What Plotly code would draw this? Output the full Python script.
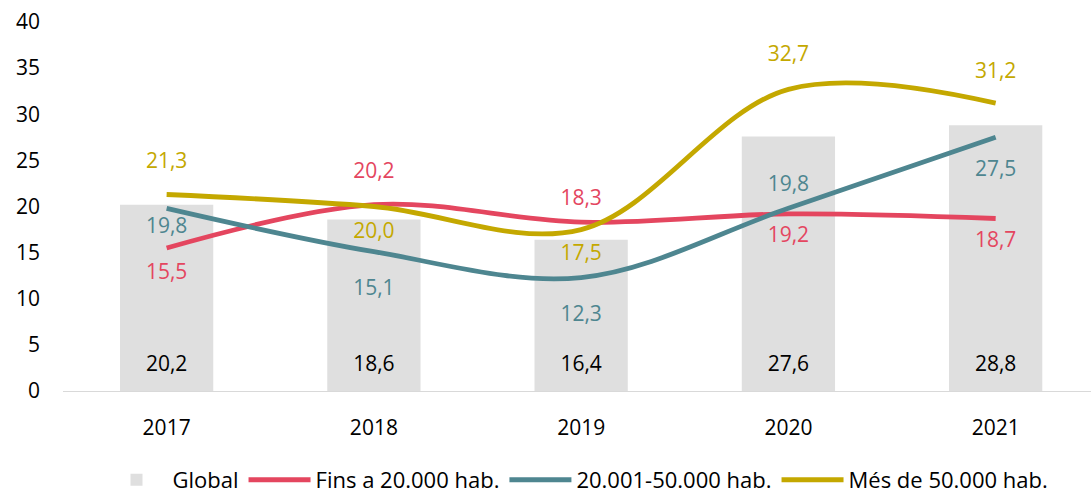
import plotly.graph_objects as go

years = ["2017", "2018", "2019", "2020", "2021"]
global_vals = [20.2, 18.6, 16.4, 27.6, 28.8]
fins20 = [15.5, 20.2, 18.3, 19.2, 18.7]
mid = [19.8, 15.1, 12.3, 19.8, 27.5]
mes50 = [21.3, 20.0, 17.5, 32.7, 31.2]
yticks = [0, 5, 10, 15, 20, 25, 30, 35, 40]

# label placement (style): side and distance (invisible marker size controls gap)
fins20_pos = ["bottom center", "top center", "top center", "bottom center", "bottom center"]
fins20_gap = [23, 32, 18, 18, 19]
mid_pos = ["bottom center", "bottom center", "bottom center", "top center", "bottom center"]
mid_gap = [12, 43, 42, 17, 35]
mes50_pos = ["top center", "bottom center", "bottom center", "top center", "top center"]
mes50_gap = [32, 23, 22, 35, 31]
global_gap = 22

RED = "#E4465F"
TEAL = "#4E8690"
YEL = "#C4A800"
GREY = "#DFDFDF"
FONT = "Open Sans"
FS = 21

def fmt(v):
    return f"{v:.1f}".replace(".", ",")

fig = go.Figure()
fig.add_trace(go.Bar(x=years, y=global_vals, name="Global", marker=dict(color=GREY, line=dict(width=0)),
                     width=0.45, hoverinfo="skip"))
series = [("Fins a 20.000 hab.", fins20, RED, fins20_pos, fins20_gap),
          ("20.001-50.000 hab.", mid, TEAL, mid_pos, mid_gap),
          ("Més de 50.000 hab.", mes50, YEL, mes50_pos, mes50_gap)]
for name, vals, col, pos, gap in series:
    fig.add_trace(go.Scatter(x=years, y=vals, name=name, mode="lines",
                             line=dict(color=col, width=4.8, shape="spline", smoothing=1.0)))

# Global value labels near the base of each bar
fig.add_trace(go.Scatter(x=years, y=[0] * len(years), mode="markers+text", showlegend=False,
                         marker=dict(size=global_gap, opacity=0), text=[fmt(v) for v in global_vals],
                         textposition="top center", textfont=dict(color="#000000", size=FS, family=FONT),
                         hoverinfo="skip"))
for name, vals, col, pos, gap in series:
    fig.add_trace(go.Scatter(x=years, y=vals, mode="markers+text", showlegend=False,
                             marker=dict(size=gap, opacity=0), text=[fmt(v) for v in vals],
                             textposition=pos, textfont=dict(color=col, size=FS, family=FONT),
                             hoverinfo="skip"))

fig.update_layout(
    width=1091, height=494,
    margin=dict(l=63, r=0, t=22, b=103, autoexpand=False),
    paper_bgcolor="white", plot_bgcolor="white",
    font=dict(family=FONT, size=FS, color="#000"),
    showlegend=True,
    legend=dict(orientation="h", x=0.5, xanchor="center", y=-0.241, yanchor="middle",
                font=dict(size=22, family=FONT), traceorder="normal",
                tracegroupgap=0, itemwidth=62),
    bargap=0.55,
)
fig.update_xaxes(type="category", range=[-0.5, 4.46], showline=True, linecolor="#D9D9D9", linewidth=1,
                 ticks="", showgrid=False, ticklabelstandoff=18, fixedrange=True,
                 tickfont=dict(size=FS, family=FONT))
fig.update_yaxes(range=[0, 40], tickvals=yticks, showgrid=False, zeroline=False, showline=False,
                 ticks="", ticklabelstandoff=22, fixedrange=True, tickfont=dict(size=FS, family=FONT))

fig.write_html("out.html", config={"displayModeBar": False},
               post_script="document.body.style.margin='0px';")
